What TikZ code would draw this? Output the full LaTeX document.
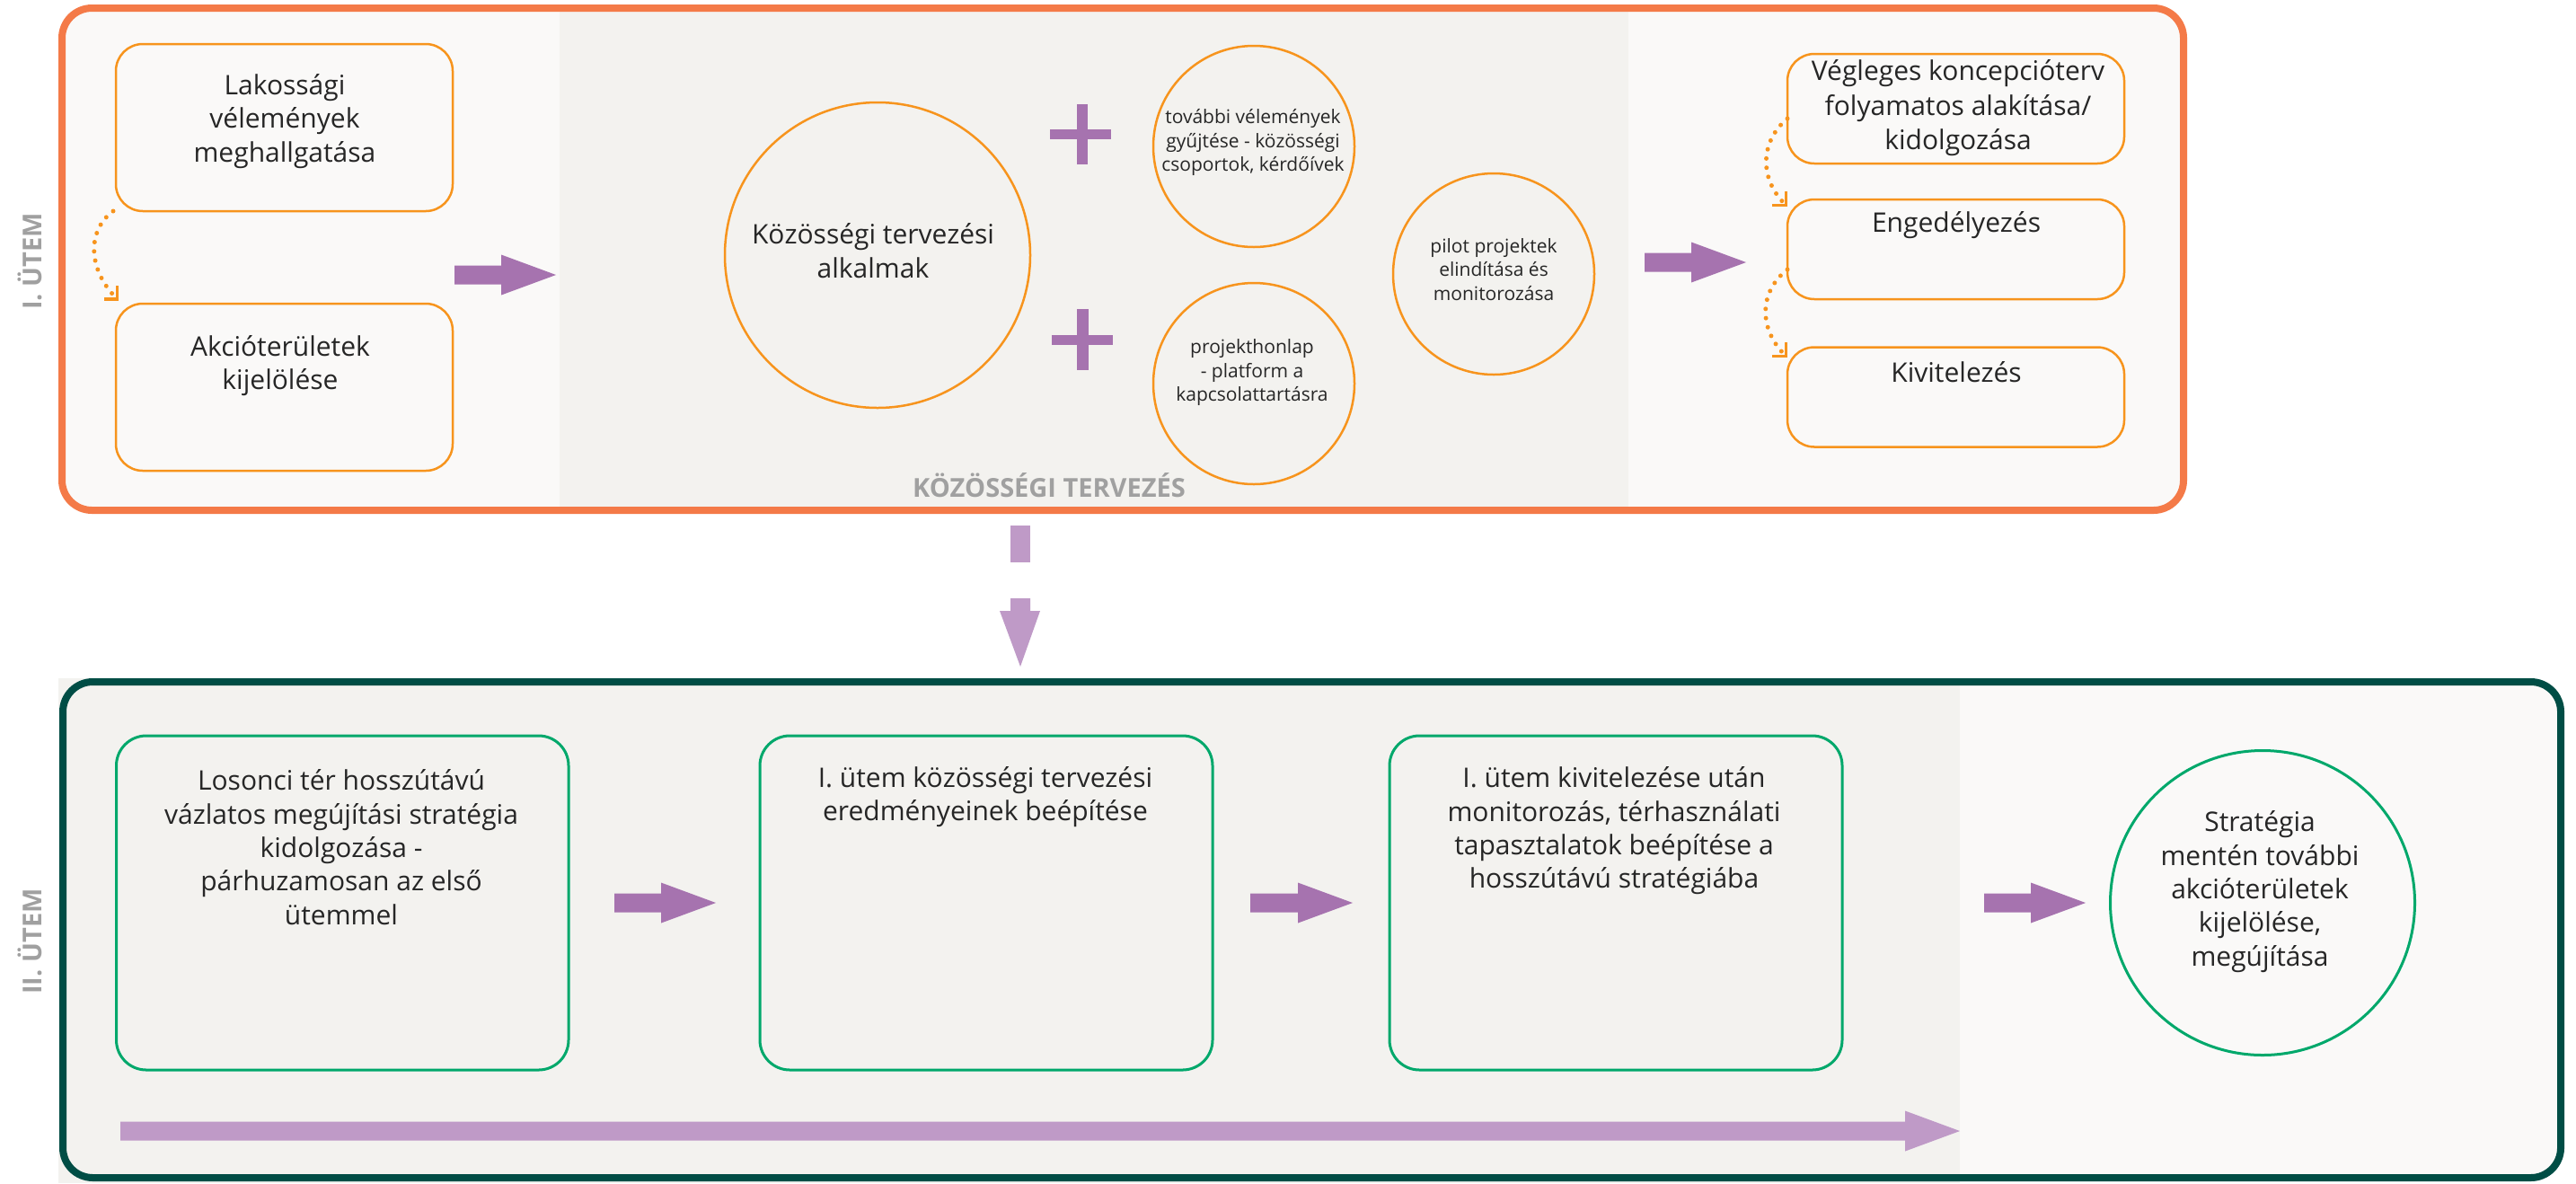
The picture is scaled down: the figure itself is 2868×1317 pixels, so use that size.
\documentclass[tikz,border=0pt]{standalone}
\usepackage{fontspec}
\setmainfont{Open Sans}
\usetikzlibrary{arrows.meta,fit}
\definecolor{frameorange}{HTML}{F47A48}
\definecolor{boxorange}{HTML}{F7941D}
\definecolor{darkgreen}{HTML}{004D45}
\definecolor{boxgreen}{HTML}{00A86B}
\definecolor{purp}{HTML}{A673AF}
\definecolor{lpurp}{HTML}{BF9AC7}
\definecolor{bglight}{HTML}{FAF9F8}
\definecolor{bgband}{HTML}{F3F2EF}
\definecolor{txtc}{HTML}{262626}
\definecolor{lblc}{HTML}{A0A0A0}
% horizontal block arrow: x start, x end (tip), y centre, colour
\newcommand\harrow[4]{%
  \fill[#4] (#1,#3-10.5) -- (#2-61,#3-10.5) -- (#2-61,#3-22.5) -- (#2,#3)
    -- (#2-61,#3+22.5) -- (#2-61,#3+10.5) -- (#1,#3+10.5) -- cycle;}
\begin{document}
\begin{tikzpicture}[x=0.3pt,y=-0.3pt,
  obox/.style={draw=boxorange, line width=0.75pt, rounded corners=9pt, inner sep=0pt, outer sep=0pt},
  gbox/.style={draw=boxgreen, line width=0.9pt, rounded corners=10pt, inner sep=0pt, outer sep=0pt},
  ocirc/.style={draw=boxorange, line width=0.75pt, circle, inner sep=0pt, outer sep=0pt},
  gcirc/.style={draw=boxgreen, line width=0.9pt, circle, inner sep=0pt, outer sep=0pt},
  bigtext/.style={text=txtc, align=center, inner sep=0pt, font=\fontsize{9pt}{11.2pt}\selectfont},
  smalltext/.style={text=txtc, align=center, inner sep=0pt, font=\fontsize{6.3pt}{7.95pt}\selectfont},
  lbl/.style={text=lblc, inner sep=0pt, font=\fontsize{8.7pt}{10pt}\selectfont\bfseries},
  dotconn/.style={draw=boxorange, line width=1.5pt, line cap=round, dash pattern=on 0pt off 3.1pt,
    -{Straight Barb[angle=90:4.5pt, line width=1pt, line cap=butt]}},
]
\useasboundingbox (0,0) rectangle (2868,1317);
\fill[white] (0,0) rectangle (2868,1317);

% ---------- frame I ----------
\fill[bglight, rounded corners=10pt] (69,9) rectangle (2431,568);
\fill[bgband] (623,13) rectangle (1813,564);
\draw[frameorange, line width=2.4pt, rounded corners=10pt] (69,9) rectangle (2431,568);

% ---------- frame II ----------
\fill[bglight, rounded corners=10pt] (70,759) rectangle (2851,1311);
\fill[bgband] (65,755) rectangle (2182,1317);
\draw[darkgreen, line width=2.4pt, rounded corners=10pt] (70,759) rectangle (2851,1311);

% ---------- phase labels ----------
\node[lbl, rotate=90] (lab1) at (33,291) {I. ÜTEM};
\node[lbl, rotate=90] (lab2) at (33,1048) {II. ÜTEM};
\node[lbl] (lab3) at (1168,540) {KÖZÖSSÉGI TERVEZÉS};

% ---------- frame I content ----------
\node[obox, fit={(129,49) (504,235)}] (b1) {};
\node[obox, fit={(129,338) (504,524)}] (b2) {};
\node[bigtext] (t1) at (317,135) {Lakossági\\vélemények\\meghallgatása};
\node[bigtext] (t2) at (312,407) {Akcióterületek\\kijelölése};
\draw[dotconn] ([xshift=-0.9pt]b1.south west) .. controls +(-30,22) and +(-34,-34) .. ([xshift=1pt,yshift=1pt]b2.north west);

\harrow{506}{619}{306}{purp}

\node[ocirc, minimum size=102pt] (c1) at (977,284) {};
\node[bigtext] (tc1) at (972,279) {Közösségi tervezési\\alkalmak};

\fill[purp] (1169,144) rectangle (1237,155);
\fill[purp] (1199,116) rectangle (1211,183);
\fill[purp] (1171,373) rectangle (1239,384);
\fill[purp] (1199,344) rectangle (1212,412);

\node[ocirc, minimum size=67.2pt] (c2) at (1396,163) {};
\node[smalltext] (tc2) at (1395,158.5) {további vélemények\\gyűjtése - közösségi\\csoportok, kérdőívek};
\node[ocirc, minimum size=67.2pt] (c3) at (1396,427) {};
\node[smalltext] (tc3) at (1394,415) {projekthonlap\\- platform a\\kapcsolattartásra};
\node[ocirc, minimum size=67.2pt] (c4) at (1663,305) {};
\node[smalltext] (tc4) at (1663,300) {pilot projektek\\elindítása és\\monitorozása};

\harrow{1831}{1944}{292}{purp}

\node[obox, fit={(1990,60) (2365,182)}] (v) {};
\node[obox, fit={(1990,222) (2365,333)}] (e) {};
\node[obox, fit={(1990,386.5) (2365,497.5)}] (k) {};
\node[bigtext, font=\fontsize{9pt}{11.55pt}\selectfont] (tv) at (2180,120.5) {Végleges koncepcióterv\\folyamatos alakítása/\\kidolgozása};
\node[bigtext] (te) at (2178,251) {Engedélyezés};
\node[bigtext] (tk) at (2178,414.5) {Kivitelezés};
\draw[dotconn] ([yshift=-3.3pt]v.west) .. controls +(-30,25) and +(-32,-32) .. ([yshift=-2.4pt]e.north west);
\draw[dotconn] ([yshift=-6.75pt]e.west) .. controls +(-32,25) and +(-32,-32) .. ([yshift=-3.45pt]k.north west);

% ---------- transition arrow ----------
\fill[lpurp] (1125,585) rectangle (1147,626);
\fill[lpurp] (1125,666) -- (1147,666) -- (1147,680) -- (1158,680) -- (1136,742)
  -- (1113,680) -- (1125,680) -- cycle;

% ---------- frame II content ----------
\node[gbox, fit={(129.5,819) (633,1191)}] (g1) {};
\node[gbox, fit={(846,819) (1350,1191)}] (g2) {};
\node[gbox, fit={(1547,819) (2051,1191)}] (g3) {};
\node[bigtext] (tg1) at (380,943) {Losonci tér hosszútávú\\vázlatos megújítási stratégia\\kidolgozása -\\párhuzamosan az első\\ütemmel};
\node[bigtext] (tg2) at (1097,887) {I. ütem közösségi tervezési\\eredményeinek beépítése};
\node[bigtext] (tg3) at (1797,925) {I. ütem kivitelezése után\\monitorozás, térhasználati\\tapasztalatok beépítése a\\hosszútávú stratégiába};

\node[gcirc, minimum size=101.7pt] (g4) at (2519,1005) {};
\node[bigtext] (tg4) at (2516,992.5) {Stratégia\\mentén további\\akcióterületek\\kijelölése,\\megújítása};

\harrow{684}{797}{1005}{purp}
\harrow{1392}{1506}{1005}{purp}
\harrow{2209}{2322}{1005}{purp}
\harrow{134}{2182}{1259}{lpurp}
\end{tikzpicture}
\end{document}
